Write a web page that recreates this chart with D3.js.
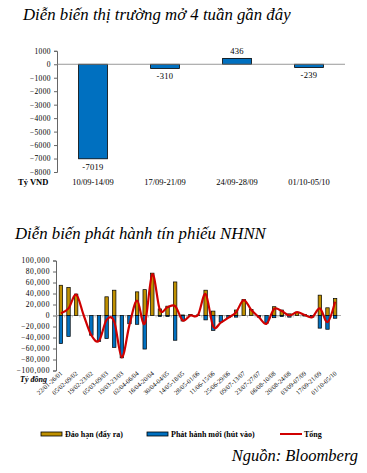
<!DOCTYPE html>
<html>
<head>
<meta charset="utf-8">
<script src="https://cdn.jsdelivr.net/npm/d3@7"></script>
<style>
  body{ margin:0; background:#fff; }
  svg text{ font-family:"Liberation Serif","Times New Roman",serif; fill:#000; }
</style>
</head>
<body>
<div id="chart"></div>
<script>
// Chart 1: open market, last 4 weeks
var weeks4 = [ '10/09-14/09', '17/09-21/09', '24/09-28/09', '01/10-05/10' ];
var net4 = [ -7019, -310, 436, -239 ];
var ticks4 = [ 1000, 0, -1000, -2000, -3000, -4000, -5000, -6000, -7000, -8000 ];

// Chart 2: SBV bills, weekly
var weeks = [ '22/01-26/01','29/01-02/02','05/02-09/02','12/02-16/02','19/02-23/02','26/02-02/03',
  '05/03-09/03','12/03-16/03','19/03-23/03','26/03-30/03','02/04-06/04','09/04-13/04',
  '16/04-20/04','23/04-27/04','30/04-04/05','07/05-11/05','14/05-18/05','21/05-25/05',
  '28/05-01/06','04/06-08/06','11/06-15/06','18/06-22/06','25/06-29/06','02/07-06/07',
  '09/07-13/07','16/07-20/07','23/07-27/07','30/07-03/08','06/08-10/08','13/08-17/08',
  '20/08-24/08','27/08-31/08','03/09-07/09','10/09-14/09','17/09-21/09','24/09-28/09','01/10-05/10' ];
var maturing = [ 55000, 51000, 39000, 0, 0, 0, 34000, 46000, 0, 0, 43000, 47000, 77000, 12000, 17000, 61000,
  1000, 2000, 1000, 46000, 8000, 0, 0, 10000, 29000, 11000, 0, 0, 16000, 10000, 3000, 6000, 2000, 0, 37000, 14000, 31000 ];
var issued = [ -51000, -38000, 0, 0, -36000, -47000, -42000, -58000, -77000, -15000, -16000, -61000, 0, -2000, -2000, -45000,
  -10000, 0, 0, -8000, -27000, -12000, -4000, -3000, 0, 0, -3000, -14000, -4000, -2000, -3000, 0, -1000, -3000, -23000, -25000, -5000 ];
var total = [ 4000, 13000, 38000, 0, -36000, -46000, -8000, -11000, -76000, -17000, 27000, -15000, 75000, 10000, 15000, 17000,
  -9000, 0, 1000, 39000, -20000, -13000, -4000, 6000, 28000, 10000, -3000, -15000, 12000, 8000, 0, 6000, 1000, -3000, 13000, -12000, 25000 ];
var ticks2 = [ 100000, 80000, 60000, 40000, 20000, 0, -20000, -40000, -60000, -80000, -100000 ];

var BLUE = '#0070C0', GOLD = '#BF9000', RED = '#D00000';

var svg = d3.select( '#chart' ).append( 'svg' )
  .attr( 'width', 367 )
  .attr( 'height', 473 );

// ---- Chart 1 ----
svg.append( 'text' )
  .attr( 'x', 23 ).attr( 'y', 20 )
  .style( 'font-size', '16.8px' ).style( 'font-style', 'italic' )
  .text( 'Diễn biến thị trường mở 4 tuần gần đây' );

var x1 = d3.scaleBand().domain( weeks4 ).range( [ 57, 345 ] ).paddingInner( 0.6 ).paddingOuter( 0.3 );
var y1 = d3.scaleLinear().domain( [ -8000, 1000 ] ).range( [ 172, 50.8 ] );

var ax1 = svg.append( 'g' )
  .attr( 'transform', 'translate(57,0)' )
  .call( d3.axisLeft( y1 ).tickValues( ticks4 ).tickSize( 3 ).tickFormat( d3.format( 'd' ) ) );
ax1.select( '.domain' ).attr( 'stroke', '#666' );
ax1.selectAll( '.tick line' ).attr( 'stroke', '#666' );
ax1.selectAll( 'text' ).style( 'font-size', '7.5px' ).style( 'letter-spacing', '0.4px' ).attr( 'x', -6 );

svg.selectAll( 'rect.b1' )
  .data( net4 )
  .enter().append( 'rect' )
    .attr( 'class', 'b1' )
    .attr( 'x', function( d, i ){ return x1( weeks4[i] ); } )
    .attr( 'y', function( d ){ return y1( Math.max( 0, d ) ); } )
    .attr( 'width', x1.bandwidth() )
    .attr( 'height', function( d ){ return Math.abs( y1( d ) - y1( 0 ) ); } )
    .attr( 'fill', BLUE ).attr( 'stroke', '#000' ).attr( 'stroke-width', 0.8 );

svg.append( 'line' )
  .attr( 'x1', 57 ).attr( 'x2', 345 ).attr( 'y1', y1( 0 ) ).attr( 'y2', y1( 0 ) )
  .attr( 'stroke', '#808080' ).attr( 'stroke-width', 0.8 );

svg.selectAll( 'text.v1' )
  .data( net4 )
  .enter().append( 'text' )
    .attr( 'class', 'v1' )
    .attr( 'x', function( d, i ){ return x1( weeks4[i] ) + x1.bandwidth() / 2; } )
    .attr( 'y', function( d ){ return d < 0 ? y1( d ) + 11 : y1( d ) - 4; } )
    .attr( 'text-anchor', 'middle' )
    .style( 'font-size', '8.5px' ).style( 'letter-spacing', '0.3px' )
    .text( function( d ){ return d; } );

svg.selectAll( 'text.c1' )
  .data( weeks4 )
  .enter().append( 'text' )
    .attr( 'class', 'c1' )
    .attr( 'x', function( d ){ return x1( d ) + x1.bandwidth() / 2; } )
    .attr( 'y', 185 )
    .attr( 'text-anchor', 'middle' )
    .style( 'font-size', '8.5px' )
    .text( function( d ){ return d; } );

svg.append( 'text' )
  .attr( 'x', 18 ).attr( 'y', 185 )
  .style( 'font-size', '8.5px' ).style( 'font-weight', 'bold' )
  .text( 'Tỷ VND' );

// ---- Chart 2 ----
svg.append( 'text' )
  .attr( 'x', 15 ).attr( 'y', 239 )
  .style( 'font-size', '16.8px' ).style( 'font-style', 'italic' )
  .text( 'Diễn biến phát hành tín phiếu NHNN' );

var x2 = d3.scaleBand().domain( weeks ).range( [ 55, 341 ] ).padding( 0.55 );
var y2 = d3.scaleLinear().domain( [ -100000, 100000 ] ).range( [ 370.5, 260.5 ] );
var cx = function( i ){ return x2( weeks[i] ) + x2.bandwidth() / 2; };

var ax2 = svg.append( 'g' )
  .attr( 'transform', 'translate(56,0)' )
  .call( d3.axisLeft( y2 ).tickValues( ticks2 ).tickSize( 3 ).tickFormat( d3.format( ',' ) ) );
ax2.select( '.domain' ).attr( 'stroke', '#666' );
ax2.selectAll( '.tick line' ).attr( 'stroke', '#666' );
ax2.selectAll( 'text' ).style( 'font-size', '7.5px' ).style( 'letter-spacing', '0.6px' ).attr( 'x', -6 );

// zero line with small ticks
svg.append( 'line' )
  .attr( 'x1', 56 ).attr( 'x2', 341 ).attr( 'y1', y2( 0 ) ).attr( 'y2', y2( 0 ) )
  .attr( 'stroke', '#999' ).attr( 'stroke-width', 0.8 );
svg.selectAll( 'line.zt' )
  .data( weeks )
  .enter().append( 'line' )
    .attr( 'class', 'zt' )
    .attr( 'x1', function( d ){ return x2( d ) - x2.step() * 0.275; } )
    .attr( 'x2', function( d ){ return x2( d ) - x2.step() * 0.275; } )
    .attr( 'y1', y2( 0 ) ).attr( 'y2', y2( 0 ) + 2 )
    .attr( 'stroke', '#999' ).attr( 'stroke-width', 0.6 );

svg.selectAll( 'rect.gold' )
  .data( maturing )
  .enter().append( 'rect' )
    .attr( 'class', 'gold' )
    .attr( 'x', function( d, i ){ return x2( weeks[i] ); } )
    .attr( 'y', function( d ){ return y2( d ); } )
    .attr( 'width', x2.bandwidth() )
    .attr( 'height', function( d ){ return y2( 0 ) - y2( d ); } )
    .attr( 'fill', GOLD ).attr( 'stroke', '#000' )
    .attr( 'stroke-width', function( d ){ return d ? 0.7 : 0; } );

svg.selectAll( 'rect.blue' )
  .data( issued )
  .enter().append( 'rect' )
    .attr( 'class', 'blue' )
    .attr( 'x', function( d, i ){ return x2( weeks[i] ); } )
    .attr( 'y', y2( 0 ) )
    .attr( 'width', x2.bandwidth() )
    .attr( 'height', function( d ){ return y2( d ) - y2( 0 ); } )
    .attr( 'fill', BLUE ).attr( 'stroke', '#000' )
    .attr( 'stroke-width', function( d ){ return d ? 0.7 : 0; } );

var line = d3.line()
  .x( function( d, i ){ return cx( i ); } )
  .y( function( d ){ return y2( d ); } )
  .curve( d3.curveCatmullRom.alpha( 0 ) );
svg.append( 'path' )
  .attr( 'd', line( total ) )
  .attr( 'fill', 'none' ).attr( 'stroke', RED ).attr( 'stroke-width', 2.2 );

// x labels, every other week, hanging from the bottom
svg.selectAll( 'text.c2' )
  .data( weeks.filter( function( d, i ){ return i % 2 == 0; } ) )
  .enter().append( 'text' )
    .attr( 'class', 'c2' )
    .attr( 'transform', function( d ){ return 'translate(' + ( x2( d ) + x2.bandwidth() / 2 + 2 ) + ',374) rotate(-42)'; } )
    .attr( 'text-anchor', 'end' )
    .style( 'font-size', '6.5px' )
    .text( function( d ){ return d; } );

svg.append( 'text' )
  .attr( 'x', 20 ).attr( 'y', 382 )
  .style( 'font-size', '8px' ).style( 'font-weight', 'bold' ).style( 'font-style', 'italic' )
  .text( 'Tỷ đồng' );

// legend
var legend = [
  { label: 'Đáo hạn (đẩy ra)', color: GOLD, x: 41, type: 'bar' },
  { label: 'Phát hành mới (hút vào)', color: BLUE, x: 147, type: 'bar' },
  { label: 'Tổng', color: RED, x: 280, type: 'line' }
];
var lg = svg.selectAll( 'g.lg' )
  .data( legend )
  .enter().append( 'g' )
    .attr( 'class', 'lg' )
    .attr( 'transform', function( d ){ return 'translate(' + d.x + ',434)'; } );
lg.filter( function( d ){ return d.type == 'bar'; } )
  .append( 'rect' )
    .attr( 'x', 0 ).attr( 'y', -2 ).attr( 'width', 21 ).attr( 'height', 4 )
    .attr( 'fill', function( d ){ return d.color; } )
    .attr( 'stroke', '#000' ).attr( 'stroke-width', 0.8 );
lg.filter( function( d ){ return d.type == 'line'; } )
  .append( 'line' )
    .attr( 'x1', 0 ).attr( 'x2', 22 ).attr( 'y1', 0 ).attr( 'y2', 0 )
    .attr( 'stroke', function( d ){ return d.color; } ).attr( 'stroke-width', 2 );
lg.append( 'text' )
  .attr( 'x', 24 ).attr( 'y', 2.8 )
  .style( 'font-size', '8px' ).style( 'font-weight', 'bold' )
  .text( function( d ){ return d.label; } );

svg.append( 'text' )
  .attr( 'x', 358 ).attr( 'y', 461 )
  .attr( 'text-anchor', 'end' )
  .style( 'font-size', '16.5px' ).style( 'font-style', 'italic' )
  .text( 'Nguồn: Bloomberg' );
</script>
</body>
</html>
